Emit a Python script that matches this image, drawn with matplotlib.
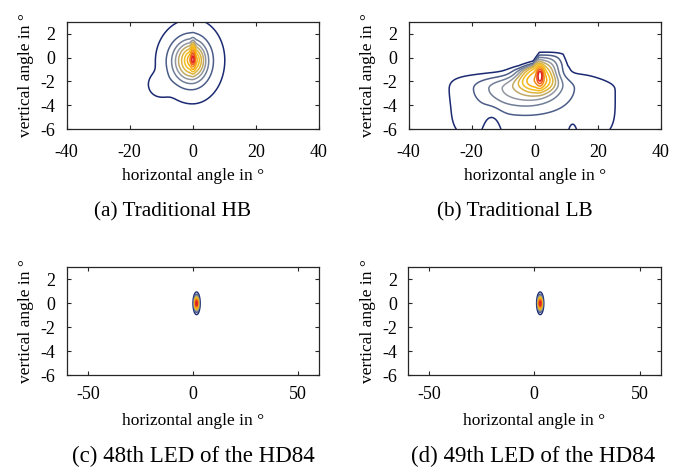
import numpy as np
import matplotlib
matplotlib.use('Agg')
import matplotlib.pyplot as plt

plt.rcParams['font.family'] = ['Liberation Serif', 'DejaVu Serif']
plt.rcParams['axes.unicode_minus'] = False

# ---------------- text / axes data ----------------
captions = ['(a) Traditional HB', '(b) Traditional LB',
            '(c) 48th LED of the HD84', '(d) 49th LED of the HD84']
xlabel_text = 'horizontal angle in °'
ylabel_text = 'vertical angle in °'
xticks_top = [-40, -20, 0, 20, 40]
xticks_bottom = [-50, 0, 50]
yticks = [2, 0, -2, -4, -6]
xlim_top = (-40, 40)
xlim_bottom = (-60, 60)
ylim = (-6, 3)

# ---------------- light distribution components ----------------
# amplitude, centre x / y, width left / right / up / down,
# norm exponent q (2 = ellipse, 4 = rounded box), profile exponent m
hb_amp = [0.35, 0.55, 0.10, 0.03]
hb_x0 = [0.1, 0.0, -1.2, -10.5]
hb_y0 = [0.1, -0.2, -0.4, -2.3]
hb_sxl = [0.6, 2.8, 6.0, 3.0]
hb_sxr = [0.6, 2.5, 5.4, 3.0]
hb_syu = [0.9, 0.85, 1.8, 0.8]
hb_syd = [0.9, 0.9, 1.75, 0.8]
hb_q = [2, 2, 2, 2]
hb_m = [2, 1, 2.5, 2]

lb_amp = [0.45, 0.40, 0.12, 0.04, 0.035, -0.04, -0.03]
lb_x0 = [1.7, 1.0, -3.0, 6.0, -0.5, -13.5, 12.0]
lb_y0 = [-1.4, -1.7, -2.6, -0.5, -3.0, -6.5, -6.5]
lb_sxl = [1.0, 5.5, 13.0, 3.5, 24.0, 3.0, 1.6]
lb_sxr = [1.0, 5.0, 11.0, 3.5, 24.0, 3.0, 1.6]
lb_syu = [0.6, 1.4, 1.0, 1.0, 1.52, 2.0, 1.3]
lb_syd = [0.8, 1.0, 1.57, 1.0, 4.0, 2.0, 1.3]
lb_q = [2, 2, 2, 2, 4, 2, 2]
lb_m = [2, 2, 2.5, 2, 4, 2, 2]
# upper cut-off line of the low beam
lb_cut_x = [-40, -20, -5, -0.5, 1.5, 9, 10.5, 20, 40]
lb_cut_y = [-1.5, -1.25, -0.9, -0.6, 0.3, 0.35, -0.6, -1.6, -3.5]

led48_amp = [1.0]
led48_x0 = [1.7]
led48_y0 = [0.0]
led48_sxl = [0.8]
led48_sxr = [0.8]
led48_syu = [0.44]
led48_syd = [0.44]
led48_q = [2]
led48_m = [2]

led49_amp = [1.0]
led49_x0 = [2.8]
led49_y0 = [0.0]
led49_sxl = [0.8]
led49_sxr = [0.8]
led49_syu = [0.44]
led49_syd = [0.44]
led49_q = [2]
led49_m = [2]

contour_levels = [0.01, 0.05, 0.1, 0.15, 0.2, 0.26, 0.33, 0.42, 0.55, 0.7, 0.85]
level_colors = ['#1b2a72', '#4b5c88', '#6f7d96', '#9296a0', '#bfa964', '#deb33a',
                '#f1bd1e', '#f6ae10', '#f48a12', '#ec5a1a', '#e02424']


def field(X, Y, amp, x0, y0, sxl, sxr, syu, syd, q, m, cut=None):
    Z = np.zeros_like(X)
    for a, cx, cy, wl, wr, wu, wd, qq, mm in zip(amp, x0, y0, sxl, sxr, syu, syd, q, m):
        wx = np.where(X >= cx, wr, wl)
        wy = np.where(Y >= cy, wu, wd)
        r = (np.abs((X - cx) / wx) ** qq + np.abs((Y - cy) / wy) ** qq) ** (1.0 / qq)
        Z += a * np.exp(-r ** mm)
    if cut is not None:
        c = np.interp(X, cut[0], cut[1])
        Z = Z / (1.0 + np.exp((Y - c) / 0.12))
    Z = np.clip(Z, 0, None)
    return Z / Z.max()


W, H = 694, 472
fig = plt.figure(figsize=(W / 100, H / 100), dpi=100)


def ax_rect(left, top, right, bottom):
    return [left / W, 1 - bottom / H, (right - left) / W, (bottom - top) / H]


panels = [
    dict(rect=ax_rect(66.7, 22, 318.7, 129), xlim=xlim_top, xt=xticks_top,
         params=(hb_amp, hb_x0, hb_y0, hb_sxl, hb_sxr, hb_syu, hb_syd, hb_q, hb_m), cut=None,
         cap=(173, 212, 15.3), xpad=11.0, xl=-0.44),
    dict(rect=ax_rect(408.7, 22, 660.7, 129), xlim=xlim_top, xt=xticks_top,
         params=(lb_amp, lb_x0, lb_y0, lb_sxl, lb_sxr, lb_syu, lb_syd, lb_q, lb_m),
         cut=(lb_cut_x, lb_cut_y), cap=(515, 212, 15.3), xpad=11.0, xl=-0.44),
    dict(rect=ax_rect(66.7, 267.3, 319.3, 375.3), xlim=xlim_bottom, xt=xticks_bottom,
         params=(led48_amp, led48_x0, led48_y0, led48_sxl, led48_sxr, led48_syu, led48_syd,
                 led48_q, led48_m),
         cut=None, cap=(193.5, 456, 16.5), xpad=8.0, xl=-0.42),
    dict(rect=ax_rect(408, 267.3, 660.6, 375.3), xlim=xlim_bottom, xt=xticks_bottom,
         params=(led49_amp, led49_x0, led49_y0, led49_sxl, led49_sxr, led49_syu, led49_syd,
                 led49_q, led49_m),
         cut=None, cap=(533.5, 456, 16.5), xpad=8.0, xl=-0.42),
]

for i, pnl in enumerate(panels):
    ax = fig.add_axes(pnl['rect'])
    x0, x1 = pnl['xlim']
    nx = 1601 if i < 2 else 4801
    xs = np.linspace(x0, x1, nx)
    ys = np.linspace(ylim[0] - 1.5, ylim[1], 901)
    X, Y = np.meshgrid(xs, ys)
    Z = field(X, Y, *pnl['params'], cut=pnl['cut'])
    ax.contour(X, Y, Z, levels=contour_levels, colors=level_colors,
               linewidths=1.1 if i < 2 else 1.0)
    ax.set_xlim(pnl['xlim'])
    ax.set_ylim(ylim)
    ax.set_xticks(pnl['xt'])
    ax.set_yticks(yticks)
    ax.tick_params(direction='in', top=True, right=True, length=3, width=0.8,
                   labelsize=13, colors='#262626', labelcolor='black')
    ax.tick_params(axis='x', pad=pnl['xpad'])
    ax.tick_params(axis='y', pad=8.0)
    for s in ax.spines.values():
        s.set_color('#262626')
        s.set_linewidth(0.9)
    ax.set_xlabel(xlabel_text, fontsize=12.5)
    ax.set_ylabel(ylabel_text, fontsize=12.5)
    ax.xaxis.set_label_coords(0.5, pnl['xl'])
    ax.xaxis.label.set_va('center')
    ax.yaxis.set_label_coords(-0.16, 0.5)
    ax.yaxis.label.set_va('center')
    cx, cy, fs = pnl['cap']
    fig.text(cx / W, 1 - cy / H, captions[i], ha='center', va='center', fontsize=fs)

fig.savefig('out.png', dpi=100)
